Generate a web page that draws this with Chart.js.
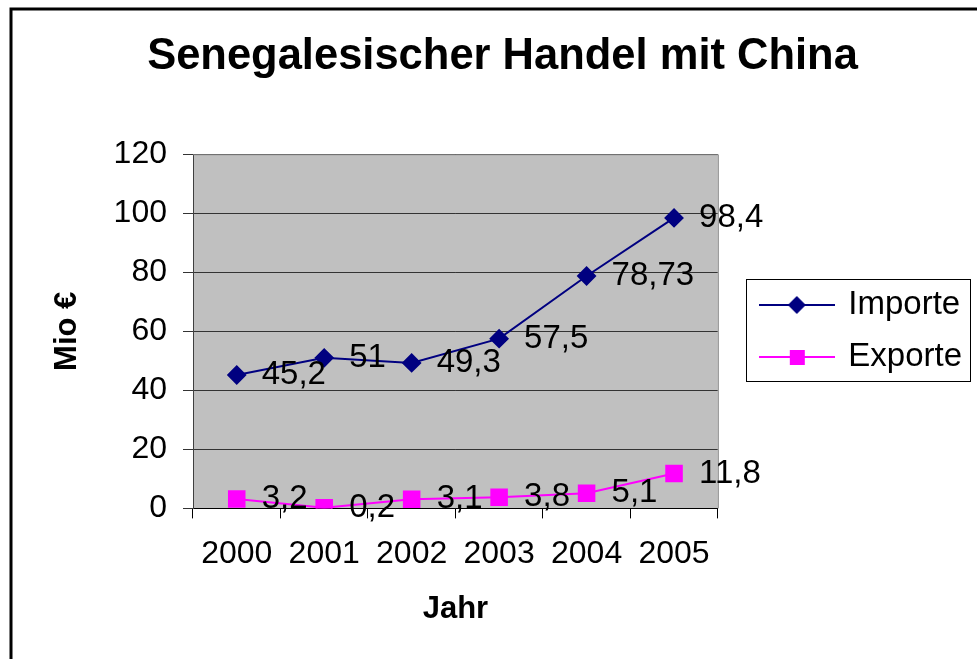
<!DOCTYPE html>
<html>
<head>
<meta charset="utf-8">
<script src="https://cdn.jsdelivr.net/npm/chart.js@4/dist/chart.umd.min.js"></script>
<style>
  body { margin: 0; background: #fff; }
  #wrap { width: 977px; height: 659px; }
</style>
</head>
<body>
<div id="wrap"><canvas id="myChart"></canvas></div>
<script>
// data
const years = ['2000', '2001', '2002', '2003', '2004', '2005'];
const importe = [45.2, 51, 49.3, 57.5, 78.73, 98.4];
const exporte = [3.2, 0.2, 3.1, 3.8, 5.1, 11.8];
const yTicks = [0, 20, 40, 60, 80, 100, 120];

Chart.defaults.font.family = "'Liberation Sans', Arial, sans-serif";
Chart.defaults.color = '#000';

// legend symbols: line with marker in the middle
function legendIcon(color, shape) {
    var c = document.createElement('canvas');
    c.width = 76;
    c.height = 20;
    var g = c.getContext('2d');
    g.strokeStyle = color;
    g.lineWidth = 2;
    g.beginPath();
    g.moveTo(0, 10);
    g.lineTo(76, 10);
    g.stroke();
    g.fillStyle = color;
    if (shape === 'diamond') {
        g.beginPath();
        g.moveTo(38, 1);
        g.lineTo(47, 10);
        g.lineTo(38, 19);
        g.lineTo(29, 10);
        g.closePath();
        g.fill();
    } else {
        g.fillRect(31, 3, 15, 15);
    }
    return c;
}
const icons = [legendIcon('#000080', 'diamond'), legendIcon('#FF00FF', 'square')];

const fmt = v => String(v).replace('.', ',');

// grey plot area, outer frame, legend frame
const framePlugin = {
    id: 'frames',
    afterLayout(chart) {
        // nudge legend and title a bit, like the original
        const lg = chart.legend;
        const dx = 25, dy = 17;
        lg.left += dx; lg.right += dx;
        lg.top += dy; lg.bottom += dy;
        (lg.legendHitBoxes || []).forEach(h => { h.top += dy; });
        const tb = chart.titleBlock;
        tb.left += 14; tb.right += 14;
    },
    beforeDraw(chart) {
        const ctx = chart.ctx;
        const a = chart.chartArea;
        ctx.save();
        ctx.fillStyle = '#C0C0C0';
        ctx.fillRect(a.left, a.top, a.right - a.left, a.bottom - a.top);
        ctx.strokeStyle = '#000';
        ctx.lineWidth = 3;
        ctx.strokeRect(11, 9, 1000, 700);
        ctx.restore();
    },
    beforeDatasetsDraw(chart) {
        const ctx = chart.ctx;
        const a = chart.chartArea;
        ctx.save();
        ctx.strokeStyle = '#808080';
        ctx.lineWidth = 1;
        ctx.beginPath();
        ctx.moveTo(a.left, a.top + 0.5);
        ctx.lineTo(a.right + 0.5, a.top + 0.5);
        ctx.lineTo(a.right + 0.5, a.bottom);
        ctx.stroke();
        ctx.restore();
    },
    afterDraw(chart) {
        const lg = chart.legend;
        const hb = lg.legendHitBoxes;
        if (!hb || !hb.length) return;
        const ctx = chart.ctx;
        const left = Math.round(lg.left) + 3;
        const top = Math.round(hb[0].top) - 10;
        const bottom = Math.round(hb[hb.length - 1].top + hb[hb.length - 1].height) + 7;
        ctx.save();
        ctx.strokeStyle = '#000';
        ctx.lineWidth = 1;
        ctx.strokeRect(left + 0.5, top + 0.5, 224, bottom - top);
        ctx.restore();
    }
};

// value labels to the right of each point
const valueLabels = {
    id: 'valueLabels',
    afterDatasetsDraw(chart) {
        const ctx = chart.ctx;
        ctx.save();
        ctx.font = "33px 'Liberation Sans', Arial, sans-serif";
        ctx.fillStyle = '#000';
        ctx.textAlign = 'left';
        ctx.textBaseline = 'middle';
        chart.data.datasets.forEach((ds, i) => {
            chart.getDatasetMeta(i).data.forEach((pt, j) => {
                ctx.fillText(fmt(ds.data[j]), pt.x + 25, pt.y);
            });
        });
        ctx.restore();
    }
};

new Chart(document.getElementById('myChart'), {
    type: 'line',
    data: {
        labels: years,
        datasets: [
            {
                label: 'Importe',
                data: importe,
                borderColor: '#000080',
                backgroundColor: '#000080',
                borderWidth: 2,
                pointStyle: 'rectRot',
                pointRadius: 8.5,
                tension: 0
            },
            {
                label: 'Exporte',
                data: exporte,
                borderColor: '#FF00FF',
                backgroundColor: '#FF00FF',
                borderWidth: 2,
                pointStyle: 'rect',
                pointRadius: 11,
                tension: 0
            }
        ]
    },
    options: {
        responsive: true,
        maintainAspectRatio: false,
        animation: false,
        layout: { padding: { left: 30, right: 30, top: 0, bottom: 31 } },
        plugins: {
            title: {
                display: true,
                text: 'Senegalesischer Handel mit China',
                font: { size: 43.5, weight: 'bold' },
                color: '#000',
                padding: { top: 31, bottom: 71 }
            },
            legend: {
                position: 'right',
                labels: {
                    usePointStyle: true,
                    pointStyleWidth: 70,
                    padding: 19,
                    color: '#000',
                    font: { size: 33 },
                    generateLabels(chart) {
                        const items = Chart.defaults.plugins.legend.labels.generateLabels(chart);
                        items.forEach((it, i) => { it.pointStyle = icons[i]; });
                        return items;
                    }
                }
            },
            tooltip: { enabled: false }
        },
        scales: {
            x: {
                offset: true,
                grid: { offset: true, drawOnChartArea: false, tickLength: 10, color: '#000' },
                border: { color: '#000' },
                ticks: { font: { size: 32 }, color: '#000', padding: 17, maxRotation: 0, autoSkip: false },
                title: {
                    display: true,
                    text: 'Jahr',
                    font: { size: 31, weight: 'bold' },
                    color: '#000',
                    padding: { top: 0, bottom: 0 }
                }
            },
            y: {
                min: 0,
                max: 120,
                afterBuildTicks(scale) {
                    scale.ticks = yTicks.map(v => ({ value: v }));
                },
                grid: { color: '#333', tickLength: 10 },
                border: { color: '#404040' },
                ticks: { font: { size: 32 }, color: '#000', padding: 16 },
                title: {
                    display: true,
                    text: 'Mio €',
                    font: { size: 31, weight: 'bold' },
                    color: '#000',
                    padding: { top: 19, bottom: 0 }
                },
                afterFit(scale) {
                    scale.width = 163;
                }
            }
        }
    },
    plugins: [framePlugin, valueLabels]
});
</script>
</body>
</html>
